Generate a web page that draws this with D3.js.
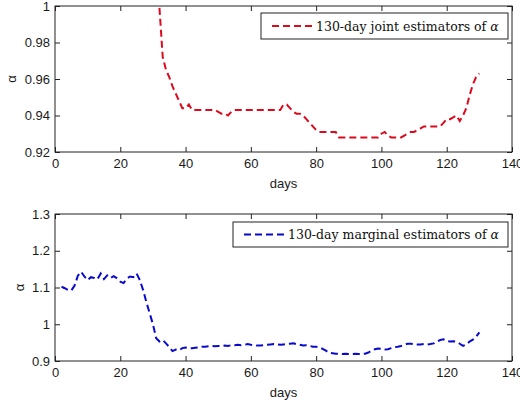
<!DOCTYPE html>
<html>
<head>
<meta charset="utf-8">
<script src="https://cdn.jsdelivr.net/npm/d3@7"></script>
<style>
  body { margin: 0; background: #fff; }
  svg { display: block; }
  .tick text { font-family: "Liberation Sans", Arial, sans-serif; font-size: 13px; fill: #1a1a1a; }
  .domain { display: none; }
</style>
</head>
<body>
<div id="chart"></div>
<script>
// joint estimators, days 32..130
var jointStart = 32;
var jointVals = [
  0.999, 0.972, 0.965, 0.961, 0.956, 0.952, 0.948, 0.944, 0.944, 0.946,
  0.943, 0.943, 0.943, 0.943, 0.943, 0.943, 0.943, 0.943, 0.942, 0.941,
  0.941, 0.940, 0.942, 0.943, 0.943, 0.943, 0.943, 0.943, 0.943, 0.943,
  0.943, 0.943, 0.943, 0.943, 0.943, 0.943, 0.943, 0.943, 0.946, 0.946,
  0.944, 0.942, 0.941, 0.941, 0.940, 0.938, 0.936, 0.934, 0.932, 0.931,
  0.931, 0.931, 0.931, 0.931, 0.931, 0.928, 0.928, 0.928, 0.928, 0.928,
  0.928, 0.928, 0.928, 0.928, 0.928, 0.928, 0.928, 0.928, 0.930, 0.931,
  0.929, 0.928, 0.928, 0.928, 0.928, 0.929, 0.930, 0.931, 0.931, 0.932,
  0.933, 0.934, 0.934, 0.934, 0.934, 0.934, 0.934, 0.936, 0.938, 0.938,
  0.939, 0.940, 0.937, 0.940, 0.944, 0.951, 0.957, 0.961, 0.963
];

// marginal estimators, days 2..130
var margStart = 2;
var margVals = [
  1.102, 1.098, 1.093, 1.092, 1.105, 1.132, 1.143, 1.130, 1.120, 1.128,
  1.126, 1.122, 1.138, 1.123, 1.133, 1.126, 1.131, 1.125, 1.116, 1.112,
  1.124, 1.130, 1.128, 1.138, 1.120, 1.093, 1.060, 1.030, 1.000, 0.962,
  0.953, 0.957, 0.948, 0.938, 0.927, 0.931, 0.929, 0.935, 0.937, 0.935,
  0.935, 0.936, 0.937, 0.939, 0.939, 0.940, 0.941, 0.940, 0.941, 0.941,
  0.942, 0.941, 0.943, 0.943, 0.944, 0.943, 0.944, 0.946, 0.944, 0.943,
  0.942, 0.942, 0.943, 0.944, 0.945, 0.946, 0.945, 0.944, 0.945, 0.946,
  0.947, 0.948, 0.946, 0.944, 0.942, 0.943, 0.941, 0.939, 0.939, 0.937,
  0.933, 0.928, 0.922, 0.921, 0.920, 0.920, 0.919, 0.920, 0.919, 0.919,
  0.920, 0.919, 0.919, 0.920, 0.923, 0.928, 0.932, 0.934, 0.933, 0.931,
  0.932, 0.935, 0.938, 0.939, 0.941, 0.944, 0.947, 0.947, 0.946, 0.945,
  0.945, 0.946, 0.945, 0.946, 0.948, 0.953, 0.957, 0.959, 0.954, 0.953,
  0.954, 0.952, 0.947, 0.941, 0.945, 0.953, 0.958, 0.966, 0.978
];

var xTicks = [0, 20, 40, 60, 80, 100, 120, 140];
var jointYTicks = [0.92, 0.94, 0.96, 0.98, 1];
var margYTicks = [0.9, 1, 1.1, 1.2, 1.3];
var jointLabel = "130-day joint estimators of ";
var margLabel = "130-day marginal estimators of ";

var width = 520, height = 407;
var svg = d3.select("#chart").append("svg")
    .attr("width", width)
    .attr("height", height);

var x = d3.scaleLinear().domain([0, 140]).range([55, 512]);

function toPoints(start, vals) {
  return vals.map(function (v, i) { return { day: start + i, val: v }; });
}

function drawPanel(opts) {
  var y = d3.scaleLinear().domain(opts.yDomain).range([opts.bottom, opts.top]);
  var g = svg.append("g");

  // ticks on all four sides, pointing inward (matlab box style)
  g.append("g").attr("transform", "translate(0," + opts.bottom + ")")
    .call(d3.axisBottom(x).tickValues(xTicks).tickSizeInner(-5).tickSizeOuter(0).tickPadding(7))
    .selectAll("line").attr("stroke", "#222");
  g.append("g").attr("transform", "translate(0," + opts.top + ")")
    .call(d3.axisTop(x).tickValues(xTicks).tickSizeInner(-5).tickSizeOuter(0).tickFormat(""))
    .selectAll("line").attr("stroke", "#222");
  g.append("g").attr("transform", "translate(55,0)")
    .call(d3.axisLeft(y).tickValues(opts.yTicks).tickSizeInner(-5).tickSizeOuter(0).tickPadding(5).tickFormat(d3.format("")))
    .selectAll("line").attr("stroke", "#222");
  g.append("g").attr("transform", "translate(512,0)")
    .call(d3.axisRight(y).tickValues(opts.yTicks).tickSizeInner(-5).tickSizeOuter(0).tickFormat(""))
    .selectAll("line").attr("stroke", "#222");

  g.append("rect")
    .attr("x", 55).attr("y", opts.top)
    .attr("width", 512 - 55).attr("height", opts.bottom - opts.top)
    .attr("fill", "none").attr("stroke", "#222").attr("stroke-width", 1);

  // series
  var line = d3.line().x(d => x(d.day)).y(d => y(d.val));
  g.append("path")
    .datum(opts.data)
    .attr("d", line)
    .attr("fill", "none")
    .attr("stroke", opts.color)
    .attr("stroke-width", 2)
    .attr("stroke-dasharray", "7,4");

  // axis labels
  g.append("text")
    .attr("x", (55 + 512) / 2).attr("y", opts.bottom + 36)
    .attr("text-anchor", "middle")
    .attr("font-family", "Liberation Sans, Arial, sans-serif")
    .attr("font-size", 13).attr("fill", "#1a1a1a")
    .text("days");
  g.append("text")
    .attr("transform", "translate(" + opts.ylabX + "," + (opts.top + opts.bottom) / 2 + ") rotate(-90)")
    .attr("text-anchor", "middle")
    .attr("font-family", "Liberation Sans, Arial, sans-serif")
    .attr("font-size", 13).attr("fill", "#1a1a1a")
    .text("α");

  // legend
  var lg = opts.legend;
  g.append("rect")
    .attr("x", lg.x).attr("y", lg.y).attr("width", 508 - lg.x).attr("height", lg.h)
    .attr("fill", "#fff").attr("stroke", "#222").attr("stroke-width", 1);
  g.append("line")
    .attr("x1", lg.x + 11).attr("x2", lg.x + 52)
    .attr("y1", lg.y + lg.h / 2).attr("y2", lg.y + lg.h / 2)
    .attr("stroke", opts.color).attr("stroke-width", 2)
    .attr("stroke-dasharray", "7,4");
  var t = g.append("text")
    .attr("x", lg.x + 55).attr("y", lg.y + lg.h / 2 + 4.5)
    .attr("font-family", "DejaVu Serif, serif")
    .attr("font-size", 12.5).attr("fill", "#111")
    .text(opts.label);
  t.append("tspan").attr("font-style", "italic").text("α");
}

drawPanel({
  top: 6, bottom: 152,
  yDomain: [0.92, 1], yTicks: jointYTicks,
  data: toPoints(jointStart, jointVals),
  color: "#dd0a1e", ylabX: 16,
  label: jointLabel,
  legend: { x: 261, y: 13, h: 26 }
});

drawPanel({
  top: 214, bottom: 361,
  yDomain: [0.9, 1.3], yTicks: margYTicks,
  data: toPoints(margStart, margVals),
  color: "#0a0acc", ylabX: 24,
  label: margLabel,
  legend: { x: 233, y: 222, h: 25 }
});
</script>
</body>
</html>
